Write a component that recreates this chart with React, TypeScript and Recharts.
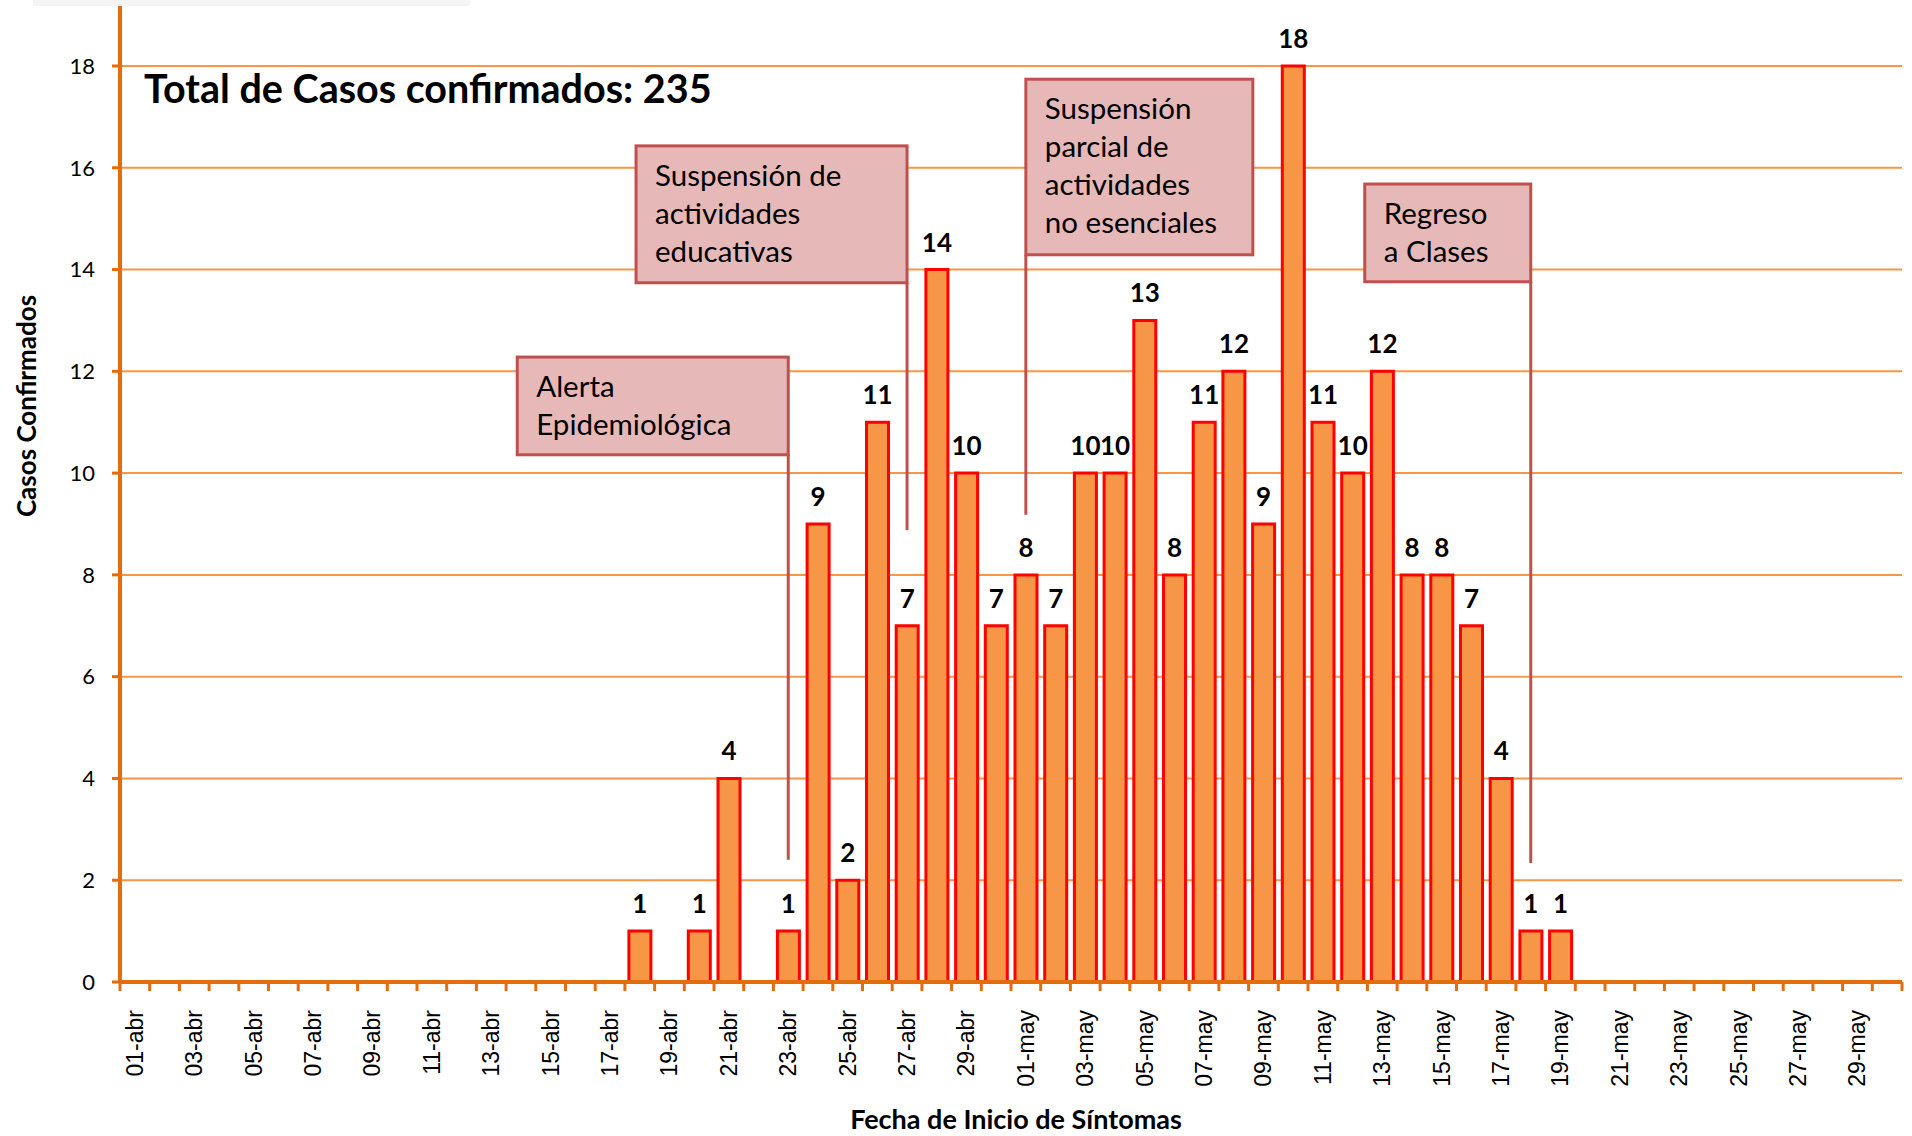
import React from "react";
import { BarChart, Bar, XAxis, YAxis, CartesianGrid, LabelList, ReferenceArea, ReferenceLine } from "recharts";

// fechas de inicio de síntomas (abril y mayo)
const fechas = [
  "01-abr", "02-abr", "03-abr", "04-abr", "05-abr", "06-abr", "07-abr", "08-abr", "09-abr", "10-abr",
  "11-abr", "12-abr", "13-abr", "14-abr", "15-abr", "16-abr", "17-abr", "18-abr", "19-abr", "20-abr",
  "21-abr", "22-abr", "23-abr", "24-abr", "25-abr", "26-abr", "27-abr", "28-abr", "29-abr", "30-abr",
  "01-may", "02-may", "03-may", "04-may", "05-may", "06-may", "07-may", "08-may", "09-may", "10-may",
  "11-may", "12-may", "13-may", "14-may", "15-may", "16-may", "17-may", "18-may", "19-may", "20-may",
  "21-may", "22-may", "23-may", "24-may", "25-may", "26-may", "27-may", "28-may", "29-may", "30-may",
];

// casos confirmados por día
const casos = [
  0, 0, 0, 0, 0, 0, 0, 0, 0, 0,
  0, 0, 0, 0, 0, 0, 0, 1, 0, 1,
  4, 0, 1, 9, 2, 11, 7, 14, 10, 7,
  8, 7, 10, 10, 13, 8, 11, 12, 9, 18,
  11, 10, 12, 8, 8, 7, 4, 1, 1, 0,
  0, 0, 0, 0, 0, 0, 0, 0, 0, 0,
];

const yTicks = [0, 2, 4, 6, 8, 10, 12, 14, 16, 18];

const totalCasos = 235;

// eventos marcados en la gráfica
const eventos = [
  { lines: ["Alerta", "Epidemiológica"], fecha: "23-abr", top: 12.28, bottom: 10.36, hasta: 2.4, lado: "right", ancho: 271 },
  { lines: ["Suspensión de", "actividades", "educativas"], fecha: "27-abr", top: 16.43, bottom: 13.74, hasta: 8.88, lado: "right", ancho: 271 },
  { lines: ["Suspensión", "parcial de", "actividades", "no esenciales"], fecha: "01-may", top: 17.74, bottom: 14.29, hasta: 9.18, lado: "left", ancho: 227 },
  { lines: ["Regreso", "a Clases"], fecha: "18-may", top: 15.68, bottom: 13.76, hasta: 2.34, lado: "right", ancho: 166 },
];

const FONT = "Lato, 'Liberation Sans', sans-serif";
const TICK_FONT = "'Liberation Sans', Arial, sans-serif";
const AXIS = "#E46C0A";
const GRID = "#F79646";

const data = fechas.map((fecha, i) => ({ fecha, casos: casos[i] }));

const FechaTick = (props: any) => {
  const { x, y, payload } = props;
  const idx = payload?.index ?? props.index ?? 0;
  const half = payload?.offset ?? 14.85;
  return (
    <g>
      <line x1={x - half} x2={x - half} y1={y} y2={y + 9} stroke={AXIS} strokeWidth={3} />
      {idx === fechas.length - 1 && (
        <line x1={x + half} x2={x + half} y1={y} y2={y + 9} stroke={AXIS} strokeWidth={3} />
      )}
      {idx % 2 === 0 && (
        <text
          transform={`translate(${x},${y + 28}) rotate(-90)`}
          textAnchor="end"
          dominantBaseline="central"
          fontSize={23}
          fontFamily={TICK_FONT}
          fill="#000"
        >
          {payload.value}
        </text>
      )}
    </g>
  );
};

const EventoBox = (props: any) => {
  const { x, y, width, height, ev } = props;
  if (x == null) return null;
  const cx = x + width / 2;
  const left = ev.lado === "right" ? cx - ev.ancho : cx;
  return (
    <g>
      <rect x={left} y={y} width={ev.ancho} height={height} fill="#E6B9B8" stroke="#C0504D" strokeWidth={3} />
      <text x={left + 19} y={y + 40} fontSize={29.5} fontFamily={FONT} fill="#000">
        {ev.lines.map((l: string, i: number) => (
          <tspan key={i} x={left + 19} dy={i === 0 ? 0 : 38}>
            {l}
          </tspan>
        ))}
      </text>
    </g>
  );
};

const App = () => {
  return (
    <div style={{ position: "absolute", left: 0, top: 0, width: 1912, height: 1136, background: "#fff", overflow: "hidden" }}>
      {/* el eje llega hasta 20, cortado arriba como en la imagen original */}
      <BarChart
        width={1912}
        height={1136}
        data={data}
        margin={{ top: -35.8, right: 10, left: 0, bottom: 0 }}
        barCategoryGap={0}
      >
        <CartesianGrid
          vertical={false}
          horizontalValues={yTicks.slice(1)}
          stroke={GRID}
          strokeWidth={2}
        />
        <XAxis
          dataKey="fecha"
          interval={0}
          height={154}
          tickSize={0}
          tickMargin={0}
          tickLine={false}
          axisLine={{ stroke: AXIS, strokeWidth: 4 }}
          tick={<FechaTick />}
        />
        <YAxis
          width={120}
          domain={[0, 20]}
          ticks={yTicks}
          tickSize={8}
          tickMargin={17}
          tickLine={{ stroke: AXIS, strokeWidth: 3 }}
          axisLine={{ stroke: AXIS, strokeWidth: 4 }}
          tick={{ fill: "#000", fontSize: 22, fontFamily: FONT }}
        />
        {eventos.map((ev, i) => (
          <ReferenceArea
            key={"a" + i}
            x1={ev.fecha}
            x2={ev.fecha}
            y1={ev.bottom}
            y2={ev.top}
            ifOverflow="visible"
            shape={(p: any) => <EventoBox {...p} ev={ev} />}
          />
        ))}
        {eventos.map((ev, i) => (
          <ReferenceLine
            key={"l" + i}
            segment={[
              { x: ev.fecha, y: ev.bottom },
              { x: ev.fecha, y: ev.hasta },
            ]}
            stroke="#C0504D"
            strokeWidth={3}
            ifOverflow="visible"
          />
        ))}
        <Bar
          dataKey="casos"
          fill="#F79646"
          stroke="#FF0000"
          strokeWidth={3}
          barSize={22}
          isAnimationActive={false}
        >
          <LabelList
            dataKey="casos"
            position="top"
            offset={18}
            formatter={(v: any) => (v ? v : "")}
            style={{ fill: "#000", fontSize: 26, fontWeight: 700, fontFamily: FONT }}
          />
        </Bar>
      </BarChart>
      <svg
        width={1912}
        height={1136}
        style={{ position: "absolute", left: 0, top: 0, pointerEvents: "none" }}
      >
        {/* borde superior recortado */}
        <rect x={123} y={0} width={1789} height={10} fill="#fff" />
        <rect x={33} y={0} width={437} height={6} fill="#f4f4f4" />
        <text x={144} y={103} fontSize={39.5} fontWeight={700} fontFamily={FONT} fill="#000">
          {`Total de Casos confirmados: ${totalCasos}`}
        </text>
        <text
          transform="translate(26,406) rotate(-90)"
          textAnchor="middle"
          dominantBaseline="central"
          fontSize={26}
          fontWeight={700}
          fontFamily={FONT}
          fill="#000"
        >
          Casos Confirmados
        </text>
        <text x={1016} y={1129} textAnchor="middle" fontSize={27} fontWeight={700} fontFamily={FONT} fill="#000">
          Fecha de Inicio de Síntomas
        </text>
      </svg>
    </div>
  );
};

export default App;
